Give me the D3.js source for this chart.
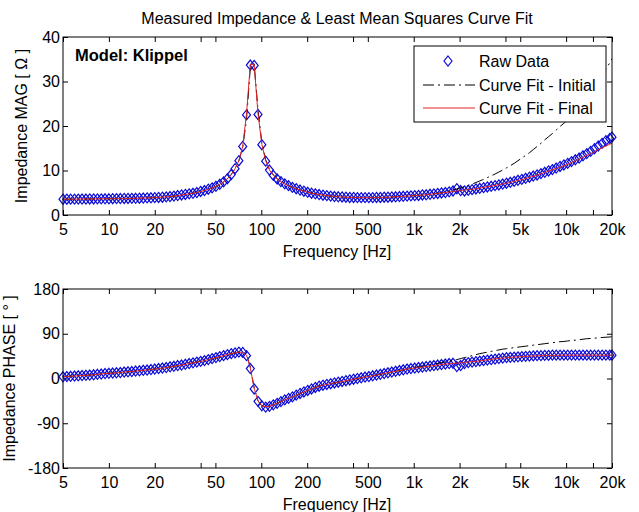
<!DOCTYPE html>
<html>
<head>
<meta charset="utf-8">
<script src="https://cdn.jsdelivr.net/npm/d3@7"></script>
<style>
  body { margin: 0; background: #fff; }
  svg { display: block; font-family: "Liberation Sans", Arial, sans-serif; }
  .tick text { font-size: 16px; fill: #000; }
  .tick line { stroke: #000; }
</style>
</head>
<body>
<div id="chart"></div>
<script>
// ─── DATA ────────────────────────────────────────────────────────────
const freq = [
  5, 5.3, 5.61, 5.95, 6.3, 6.67, 7.07, 7.49, 7.94, 8.41, 8.91, 9.44,
  10, 10.59, 11.22, 11.89, 12.6, 13.35, 14.14, 14.98, 15.87, 16.82, 17.82, 18.88,
  20, 21.19, 22.45, 23.78, 25.2, 26.7, 28.28, 29.97, 31.75, 33.64, 35.64, 37.76,
  40, 42.38, 44.9, 47.57, 50.4, 53.4, 56.57, 59.93, 63.5, 67.27, 71.27, 75.51,
  80, 84.76, 89.8, 95.14, 100.8, 106.8, 113.1, 119.9, 127, 134.5, 142.5, 151,
  160, 169.5, 179.6, 190.3, 201.6, 213.6, 226.3, 239.7, 254, 269.1, 285.1, 302,
  320, 339, 359.2, 380.6, 403.2, 427.2, 452.5, 479.5, 508, 538.2, 570.2, 604.1,
  640, 678, 718.4, 761.1, 806.4, 854.3, 905.1, 958.9, 1016, 1076, 1140, 1208,
  1280, 1356, 1437, 1522, 1613, 1709, 1810, 1918, 2032, 2153, 2281, 2416,
  2560, 2712, 2874, 3044, 3225, 3417, 3620, 3836, 4064, 4305, 4561, 4833,
  5120, 5424, 5747, 6089, 6451, 6834, 7241, 7671, 8127, 8611, 9123, 9665,
  10240, 10849, 11494, 12177, 12902, 13669, 14482, 15343, 16255, 17222, 18246, 19331,
  20000
];

// Impedance magnitude [ohm]
const rawMag = [
  3.55, 3.55, 3.56, 3.56, 3.57, 3.58, 3.59, 3.60, 3.61, 3.62, 3.63, 3.64,
  3.65, 3.66, 3.68, 3.69, 3.71, 3.72, 3.74, 3.76, 3.78, 3.81, 3.84, 3.87,
  3.90, 3.95, 4.00, 4.07, 4.15, 4.25, 4.37, 4.50, 4.62, 4.75, 4.88, 5.05,
  5.30, 5.50, 5.80, 6.10, 6.45, 6.90, 7.45, 8.15, 9.10, 10.4, 12.2, 15.4,
  22.5, 33.7, 33.6, 22.6, 15.8, 12.1, 10.1, 8.9, 8.1, 7.5, 7.0, 6.6,
  6.2, 5.9, 5.6, 5.35, 5.1, 4.9, 4.75, 4.6, 4.45, 4.35, 4.25, 4.15,
  4.1, 4.05, 4.0, 3.95, 3.95, 3.9, 3.9, 3.9, 3.9, 3.9, 3.95, 3.95,
  4.0, 4.0, 4.05, 4.1, 4.15, 4.2, 4.25, 4.3, 4.35, 4.4, 4.5, 4.55,
  4.65, 4.75, 4.85, 4.95, 5.05, 5.2, 5.4, 5.9, 5.5, 5.4, 5.55, 5.7,
  5.85, 6.0, 6.15, 6.3, 6.45, 6.6, 6.75, 6.95, 7.15, 7.35, 7.55, 7.8,
  8.0, 8.25, 8.5, 8.75, 9.0, 9.3, 9.6, 9.9, 10.2, 10.55, 10.9, 11.25,
  11.6, 12.0, 12.4, 12.8, 13.3, 13.8, 14.3, 14.9, 15.5, 16.1, 16.7, 17.2,
  17.5
];
const initMag = [
  3.55, 3.55, 3.56, 3.56, 3.57, 3.58, 3.59, 3.60, 3.61, 3.62, 3.63, 3.64,
  3.65, 3.66, 3.68, 3.69, 3.71, 3.72, 3.74, 3.76, 3.78, 3.81, 3.84, 3.87,
  3.90, 3.95, 4.00, 4.07, 4.15, 4.25, 4.37, 4.50, 4.62, 4.75, 4.88, 5.05,
  5.30, 5.50, 5.80, 6.10, 6.45, 6.90, 7.45, 8.15, 9.10, 10.4, 12.2, 15.2,
  21.5, 33.2, 33.9, 23.6, 16.3, 12.4, 10.3, 9.0, 8.2, 7.6, 7.0, 6.6,
  6.2, 5.9, 5.6, 5.35, 5.1, 4.9, 4.75, 4.6, 4.45, 4.35, 4.25, 4.15,
  4.1, 4.05, 4.0, 3.95, 3.95, 3.9, 3.9, 3.9, 3.9, 3.9, 3.95, 3.95,
  4.0, 4.0, 4.05, 4.1, 4.15, 4.2, 4.25, 4.3, 4.35, 4.4, 4.5, 4.55,
  4.7, 4.8, 4.9, 5.0, 5.15, 5.35, 5.6, 5.85, 6.1, 6.35, 6.65, 6.95,
  7.3, 7.65, 8.0, 8.4, 8.8, 9.2, 9.65, 10.1, 10.6, 11.1, 11.6, 12.2,
  12.8, 13.4, 14.0, 14.7, 15.4, 16.1, 16.9, 17.6, 18.3, 19.1, 19.9, 20.6,
  21.4, 22.3, 23.2, 24.2, 25.3, 26.4, 27.6, 28.8, 30.1, 31.4, 32.8, 34.2,
  35.1
];
const finalMag = [
  3.55, 3.55, 3.56, 3.56, 3.57, 3.58, 3.59, 3.60, 3.61, 3.62, 3.63, 3.64,
  3.65, 3.66, 3.68, 3.69, 3.71, 3.72, 3.74, 3.76, 3.78, 3.81, 3.84, 3.87,
  3.90, 3.95, 4.00, 4.07, 4.15, 4.25, 4.37, 4.50, 4.62, 4.75, 4.88, 5.05,
  5.30, 5.50, 5.80, 6.10, 6.45, 6.90, 7.45, 8.15, 9.10, 10.4, 12.2, 15.4,
  22.8, 33.9, 33.8, 22.8, 15.9, 12.2, 10.1, 8.9, 8.1, 7.5, 7.0, 6.6,
  6.2, 5.9, 5.6, 5.35, 5.1, 4.9, 4.75, 4.6, 4.45, 4.35, 4.25, 4.15,
  4.1, 4.05, 4.0, 3.95, 3.95, 3.9, 3.9, 3.9, 3.9, 3.9, 3.95, 3.95,
  4.0, 4.0, 4.05, 4.1, 4.15, 4.2, 4.25, 4.3, 4.35, 4.4, 4.5, 4.55,
  4.65, 4.75, 4.85, 4.95, 5.05, 5.15, 5.3, 5.4, 5.5, 5.6, 5.7, 5.8,
  5.9, 6.05, 6.2, 6.35, 6.5, 6.65, 6.8, 6.95, 7.15, 7.35, 7.55, 7.75,
  7.95, 8.2, 8.45, 8.7, 8.95, 9.25, 9.55, 9.85, 10.15, 10.45, 10.75, 11.05,
  11.4, 11.8, 12.2, 12.6, 13.0, 13.4, 13.8, 14.3, 14.7, 15.1, 15.5, 15.9,
  16.1
];

// Impedance phase [deg]
const rawPhase = [
  3.5, 4, 4.5, 5, 5.5, 6, 6.5, 7, 7.5, 8.5, 9, 10,
  10.5, 11, 11.5, 12, 13, 13.5, 14, 15, 15.5, 16.5, 17, 18,
  19, 20, 21, 22, 23.5, 24.5, 26, 27, 28.5, 30, 31.5, 33,
  34.5, 36, 38, 40, 42, 44, 46, 48, 50, 51.5, 53, 52.5,
  46, 20, -21, -46, -55, -57.5, -56, -53, -50, -46.5, -43, -40,
  -37, -33.5, -30, -27, -24, -21, -18, -15.5, -13.5, -12, -10.5, -9,
  -7.5, -6, -4.5, -3, -1.5, 0, 1.5, 3, 4, 5.5, 7, 8.5,
  10, 11.5, 13, 14.5, 16, 17.5, 19, 20, 21, 22, 23, 24,
  25, 26, 27, 28, 29, 30, 30.5, 24, 26, 30, 32, 33,
  34, 35, 36, 37, 38, 39, 40, 41, 42, 42.5, 43, 43.5,
  44, 44.5, 45, 45.5, 46, 46, 46.5, 46.5, 47, 47, 47, 47,
  47, 47, 47, 47, 47, 47, 47, 47, 47, 47, 47, 47,
  47
];
const initPhase = [
  3.5, 4, 4.5, 5, 5.5, 6, 6.5, 7, 7.5, 8.5, 9, 10,
  10.5, 11, 11.5, 12, 13, 13.5, 14, 15, 15.5, 16.5, 17, 18,
  19, 20, 21, 22, 23.5, 24.5, 26, 27, 28.5, 30, 31.5, 33,
  34.5, 36, 38, 40, 42, 44, 46, 48, 50, 51.5, 53, 52.5,
  48, 23, -19, -45, -55, -58, -56, -53, -50, -46.5, -43, -40,
  -37, -33.5, -30, -27, -24, -21, -18, -15.5, -13.5, -12, -10.5, -9,
  -7.5, -6, -4.5, -3, -1.5, 0, 1.5, 3, 4, 5.5, 7, 8.5,
  10, 11.5, 13, 14.5, 16, 17.5, 19, 20, 22, 23, 24.5, 26,
  27.5, 29, 30.5, 32, 33.5, 35, 36.5, 38, 40, 42, 44, 46,
  48, 50, 51.5, 53, 54.5, 56, 57.5, 59, 60, 61, 62, 63,
  64, 65, 66, 67, 68, 69, 70, 71, 72, 73, 74, 74.5,
  75.5, 76.5, 77, 78, 79, 80, 80.5, 81, 82, 82.5, 83, 83.5,
  84
];
const finalPhase = [
  3.5, 4, 4.5, 5, 5.5, 6, 6.5, 7, 7.5, 8.5, 9, 10,
  10.5, 11, 11.5, 12, 13, 13.5, 14, 15, 15.5, 16.5, 17, 18,
  19, 20, 21, 22, 23.5, 24.5, 26, 27, 28.5, 30, 31.5, 33,
  34.5, 36, 38, 40, 42, 44, 46, 48, 50, 51.5, 53, 52.5,
  47, 21, -20, -45, -55, -57, -56, -53, -50, -46.5, -43, -40,
  -37, -33.5, -30, -27, -24, -21, -18, -15.5, -13.5, -12, -10.5, -9,
  -7.5, -6, -4.5, -3, -1.5, 0, 1.5, 3, 4, 5.5, 7, 8.5,
  10, 11.5, 13, 14.5, 16, 17.5, 19, 20, 21, 22, 23, 24,
  25, 26, 27, 28, 29, 29.5, 30.5, 31, 31.5, 32.5, 33, 34,
  34.5, 35.5, 36.5, 37.5, 38.5, 39.5, 40.5, 41, 42, 42.5, 43, 43.5,
  44, 44.5, 45, 45.5, 45.5, 46, 46, 46.5, 46.5, 46.5, 47, 47,
  47, 47, 47, 47, 47, 47, 47, 47, 47, 47, 47, 47,
  47
];

// Axis ticks
const freqTicks = [5, 10, 20, 40, 50, 100, 200, 400, 500, 1000, 2000, 4000, 5000, 10000, 15000, 20000];
const freqLabels = {5: "5", 10: "10", 20: "20", 50: "50", 100: "100", 200: "200", 500: "500",
                    1000: "1k", 2000: "2k", 5000: "5k", 10000: "10k", 20000: "20k"};
const magTicks = [0, 10, 20, 30, 40];
const phaseTicks = [-180, -90, 0, 90, 180];

const legendLabels = ["Raw Data", "Curve Fit - Initial", "Curve Fit - Final"];

// ─── CANVAS ──────────────────────────────────────────────────────────
const width = 639, height = 512;
const blue = "#0a0ad8", red = "#e02424";

const svg = d3.select("#chart").append("svg")
    .attr("width", width)
    .attr("height", height)
    .style("background", "#fff");

const x = d3.scaleLog().domain([5, 20000]).range([63, 612]);
const yMag = d3.scaleLinear().domain([0, 40]).range([215, 37]);
const yPhase = d3.scaleLinear().domain([-180, 180]).range([468, 289]);

const diamond = "M0,-5L4,0L0,5L-4,0Z";

// ─── ONE PANEL ───────────────────────────────────────────────────────
function drawPanel(id, y, ticks, raw, init, fin) {
    const [y0, y1] = y.range();
    const g = svg.append("g");

    g.append("clipPath").attr("id", id)
      .append("rect")
        .attr("x", 63).attr("y", y1)
        .attr("width", 612 - 63).attr("height", y0 - y1);

    // axes with inward ticks
    const fmt = d => freqLabels[d] || "";
    g.append("g").attr("transform", `translate(0,${y0})`)
        .call(d3.axisBottom(x).tickValues(freqTicks).tickFormat(fmt).tickSizeInner(-5).tickSizeOuter(0).tickPadding(9));
    g.append("g").attr("transform", `translate(0,${y1})`)
        .call(d3.axisTop(x).tickValues(freqTicks).tickFormat("").tickSizeInner(-5).tickSizeOuter(0));
    g.append("g").attr("transform", "translate(63,0)")
        .call(d3.axisLeft(y).tickValues(ticks).tickFormat(d => String(d)).tickSizeInner(-5).tickSizeOuter(0).tickPadding(3));
    g.append("g").attr("transform", "translate(612,0)")
        .call(d3.axisRight(y).tickValues(ticks).tickFormat("").tickSizeInner(-5).tickSizeOuter(0));
    g.selectAll(".domain").remove();

    // raw data diamonds
    g.append("g").selectAll("path")
        .data(freq.map((f, i) => [f, raw[i]]))
        .enter().append("path")
        .attr("d", diamond)
        .attr("transform", d => `translate(${x(d[0])},${y(d[1])})`)
        .attr("fill", "none")
        .attr("stroke", blue)
        .attr("stroke-width", 1.2);

    const line = d3.line().x(d => x(d[0])).y(d => y(d[1]));

    g.append("path")
        .datum(freq.map((f, i) => [f, init[i]]))
        .attr("d", line)
        .attr("clip-path", `url(#${id})`)
        .attr("fill", "none")
        .attr("stroke", "#000")
        .attr("stroke-width", 1)
        .attr("stroke-dasharray", "11,4,2,4");

    g.append("path")
        .datum(freq.map((f, i) => [f, fin[i]]))
        .attr("d", line)
        .attr("clip-path", `url(#${id})`)
        .attr("fill", "none")
        .attr("stroke", red)
        .attr("stroke-width", 1);

    // box
    g.append("rect")
        .attr("x", 63).attr("y", y1)
        .attr("width", 612 - 63).attr("height", y0 - y1)
        .attr("fill", "none")
        .attr("stroke", "#000")
        .attr("stroke-width", 1);

    // x label
    g.append("text")
        .attr("x", 337).attr("y", y0 + 41.5)
        .attr("text-anchor", "middle")
        .style("font-size", "16px")
        .text("Frequency [Hz]");
    return g;
}

drawPanel("clipMag", yMag, magTicks, rawMag, initMag, finalMag);
drawPanel("clipPhase", yPhase, phaseTicks, rawPhase, initPhase, finalPhase);

// ─── TEXTS ───────────────────────────────────────────────────────────
svg.append("text")
    .attr("x", 337).attr("y", 23.5)
    .attr("text-anchor", "middle")
    .style("font-size", "16px")
    .text("Measured Impedance & Least Mean Squares Curve Fit");

svg.append("text")
    .attr("transform", "translate(27,126) rotate(-90)")
    .attr("text-anchor", "middle")
    .style("font-size", "16px")
    .text("Impedance MAG [ Ω ]");

svg.append("text")
    .attr("transform", "translate(15,378.5) rotate(-90)")
    .attr("text-anchor", "middle")
    .style("font-size", "16px")
    .text("Impedance PHASE [ ° ]");

svg.append("text")
    .attr("x", 75).attr("y", 61)
    .style("font-size", "16.5px")
    .style("font-weight", "bold")
    .text("Model: Klippel");

// ─── LEGEND ──────────────────────────────────────────────────────────
const legend = svg.append("g");
legend.append("rect")
    .attr("x", 414).attr("y", 46)
    .attr("width", 192).attr("height", 76)
    .attr("fill", "#fff")
    .attr("stroke", "#000")
    .attr("stroke-width", 1);

const rowY = [61, 85, 108];
legend.append("path")
    .attr("d", diamond)
    .attr("transform", `translate(448,${rowY[0]})`)
    .attr("fill", "none")
    .attr("stroke", blue)
    .attr("stroke-width", 1.2);
legend.append("line")
    .attr("x1", 423).attr("x2", 475).attr("y1", rowY[1]).attr("y2", rowY[1])
    .attr("stroke", "#000").attr("stroke-dasharray", "11,4,2,4");
legend.append("line")
    .attr("x1", 423).attr("x2", 475).attr("y1", rowY[2]).attr("y2", rowY[2])
    .attr("stroke", red);

legend.selectAll("text.lab")
    .data(legendLabels)
    .enter().append("text")
    .attr("class", "lab")
    .attr("x", 479)
    .attr("y", (d, i) => rowY[i] + 5.5)
    .style("font-size", "16px")
    .text(d => d);
</script>
</body>
</html>
